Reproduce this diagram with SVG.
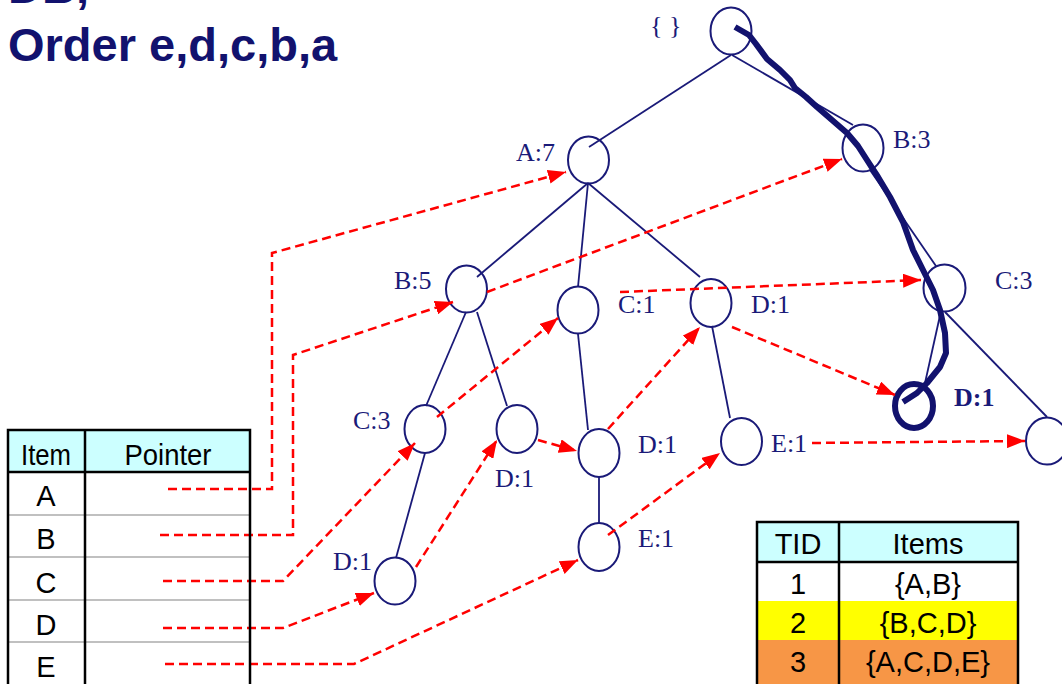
<svg xmlns="http://www.w3.org/2000/svg" width="1062" height="684" viewBox="0 0 1062 684">
<style>
.title{font-family:"Liberation Sans",Arial,sans-serif;font-weight:bold;font-size:47px;fill:#12126e}
.lbl{font-family:"Liberation Serif","Times New Roman",serif;font-size:26px;fill:#1a1a78}
.node{fill:none;stroke:#1a1a78;stroke-width:2}
.edge{stroke:#1a1a78;stroke-width:1.8;fill:none}
.ptr{stroke:#ff0000;stroke-width:2.5;stroke-dasharray:9,5;fill:none}
.tt{font-family:"Liberation Sans",Arial,sans-serif;font-size:29px;fill:#000;text-anchor:middle}
.tb{stroke:#000;stroke-width:2.5;fill:none}
.grey{stroke:#c0c0c0;stroke-width:2}
</style>
<defs>
<marker id="ah" markerUnits="userSpaceOnUse" markerWidth="18" markerHeight="14" refX="18" refY="7" orient="auto">
<path d="M0,0 L18,7 L0,14 z" fill="#ff0000"/>
</marker>
</defs>
<rect width="1062" height="684" fill="#ffffff"/>
<g id="title">
<text class="title" x="8" y="3">DB,</text>
<text class="title" x="8" y="61">Order e,d,c,b,a</text>
</g>
<g id="tree-edges">
<line class="edge" x1="731" y1="55" x2="589" y2="147"/>
<line class="edge" x1="732" y1="55" x2="853" y2="125"/>
<line class="edge" x1="588" y1="183" x2="477" y2="277"/>
<line class="edge" x1="588" y1="183" x2="578" y2="287"/>
<line class="edge" x1="588" y1="183" x2="700" y2="277"/>
<line class="edge" x1="870" y1="170" x2="936" y2="266"/>
<line class="edge" x1="941" y1="311" x2="925" y2="383"/>
<line class="edge" x1="945" y1="312" x2="1047" y2="417"/>
<line class="edge" x1="466" y1="312" x2="426" y2="406"/>
<line class="edge" x1="477" y1="312" x2="507" y2="406"/>
<line class="edge" x1="578" y1="334" x2="588" y2="430"/>
<line class="edge" x1="599" y1="477" x2="599" y2="523"/>
<line class="edge" x1="712" y1="326" x2="730" y2="418"/>
<line class="edge" x1="425" y1="453" x2="396" y2="558"/>
</g>
<g id="node-root"><ellipse class="node" cx="731" cy="31" rx="20.5" ry="23.5"/><text class="lbl" x="650" y="34">{ }</text></g>
<g id="node-A7"><ellipse class="node" cx="588.5" cy="160" rx="20.5" ry="23.5"/><text class="lbl" x="516" y="161">A:7</text></g>
<g id="node-B3"><ellipse class="node" cx="863" cy="148" rx="20.5" ry="23.5"/><text class="lbl" x="893" y="148">B:3</text></g>
<g id="node-B5"><ellipse class="node" cx="466.5" cy="289" rx="20.5" ry="23.5"/><text class="lbl" x="394" y="289">B:5</text></g>
<g id="node-C1"><ellipse class="node" cx="578" cy="310" rx="20.5" ry="23.5"/><text class="lbl" x="618" y="313">C:1</text></g>
<g id="node-D1a"><ellipse class="node" cx="711" cy="303" rx="20.5" ry="24"/><text class="lbl" x="751" y="313">D:1</text></g>
<g id="node-C3r"><ellipse class="node" cx="944.5" cy="288" rx="21" ry="23.5"/><text class="lbl" x="995" y="289">C:3</text></g>
<g id="node-D1bold"><ellipse cx="914" cy="406" rx="19" ry="22" fill="none" stroke="#12126e" stroke-width="6"/><text class="lbl" x="954" y="406" font-weight="bold">D:1</text></g>
<g id="node-Eright"><ellipse class="node" cx="1047" cy="441" rx="21" ry="23.5"/></g>
<g id="node-C3l"><ellipse class="node" cx="425" cy="429" rx="20.5" ry="24"/><text class="lbl" x="353" y="429">C:3</text></g>
<g id="node-D1b"><ellipse class="node" cx="517" cy="429" rx="20.5" ry="24"/><text class="lbl" x="495" y="487">D:1</text></g>
<g id="node-D1m"><ellipse class="node" cx="599" cy="453" rx="20.5" ry="24"/><text class="lbl" x="638" y="453">D:1</text></g>
<g id="node-E1m"><ellipse class="node" cx="599" cy="547" rx="20.5" ry="24"/><text class="lbl" x="638" y="547">E:1</text></g>
<g id="node-E1r"><ellipse class="node" cx="741.5" cy="441.5" rx="20.5" ry="23.5"/><text class="lbl" x="771" y="452">E:1</text></g>
<g id="node-D1bl"><ellipse class="node" cx="395" cy="581" rx="20.5" ry="23.5"/><text class="lbl" x="333" y="570">D:1</text></g>
<g id="highlight-path">
<path d="M735,27 L749,35 L756,44 L767,59 L780,70 L790,80 L795,88 L806,97 L817,107 L832,120 L847,133 L858,146 L867,160 L878,177 L890,197 L903,222 L913,250 L923,270 L933,290 L940,310 L945,333 L946,353 L940,367 L927,383 L917,393 L903,402" fill="none" stroke="#12126e" stroke-width="6" stroke-linejoin="round"/>
</g>
<g id="connectors">
<polyline class="ptr" points="168,489 272,489 272,253 566,172" marker-end="url(#ah)"/>
<polyline class="ptr" points="160,535 293,535 293,355 453,302" marker-end="url(#ah)"/>
<polyline class="ptr" points="163,581 283,581 415,443" marker-end="url(#ah)"/>
<polyline class="ptr" points="163,628 283,628 374,593" marker-end="url(#ah)"/>
<polyline class="ptr" points="165,664 354,664 578,560" marker-end="url(#ah)"/>
<line class="ptr" x1="487" y1="292" x2="842" y2="159" marker-end="url(#ah)"/>
<line class="ptr" x1="437" y1="417" x2="558" y2="318" marker-end="url(#ah)"/>
<line class="ptr" x1="620" y1="292" x2="921" y2="280" marker-end="url(#ah)"/>
<line class="ptr" x1="812" y1="443" x2="1025" y2="441" marker-end="url(#ah)"/>
<line class="ptr" x1="538" y1="440" x2="577" y2="451" marker-end="url(#ah)"/>
<line class="ptr" x1="416" y1="567" x2="497" y2="440" marker-end="url(#ah)"/>
<line class="ptr" x1="608" y1="429" x2="700" y2="327" marker-end="url(#ah)"/>
<line class="ptr" x1="732" y1="327" x2="895" y2="395" marker-end="url(#ah)"/>
<line class="ptr" x1="608" y1="535" x2="720" y2="453" marker-end="url(#ah)"/>
</g>
<g id="header-table">
<rect x="8" y="430" width="242" height="42" fill="#ccffff"/>
<line class="grey" x1="9" y1="515" x2="249" y2="515"/>
<line class="grey" x1="9" y1="557" x2="249" y2="557"/>
<line class="grey" x1="9" y1="600" x2="249" y2="600"/>
<line class="grey" x1="9" y1="642" x2="249" y2="642"/>
<polyline class="tb" points="8,690 8,430 250,430 250,690"/>
<line class="tb" x1="8" y1="472" x2="250" y2="472"/>
<line class="tb" x1="85" y1="430" x2="85" y2="690"/>
<text class="tt" x="46" y="465" textLength="50" lengthAdjust="spacingAndGlyphs">Item</text>
<text class="tt" x="168" y="465" textLength="87" lengthAdjust="spacingAndGlyphs">Pointer</text>
<text class="tt" x="46" y="506">A</text>
<text class="tt" x="46" y="549">B</text>
<text class="tt" x="46" y="593">C</text>
<text class="tt" x="46" y="635">D</text>
<text class="tt" x="46" y="677">E</text>
</g>
<g id="tid-table">
<rect x="757" y="522" width="261" height="40" fill="#ccffff"/>
<rect x="757" y="562" width="261" height="39" fill="#ffffff"/>
<rect x="757" y="601" width="261" height="39" fill="#ffff00"/>
<rect x="757" y="640" width="261" height="50" fill="#f79646"/>
<polyline class="tb" points="757,690 757,522 1018,522 1018,690"/>
<line class="tb" x1="757" y1="562" x2="1018" y2="562"/>
<line class="tb" x1="839" y1="522" x2="839" y2="690"/>
<text class="tt" x="798" y="554">TID</text>
<text class="tt" x="928" y="554">Items</text>
<text class="tt" x="798" y="594">1</text>
<text class="tt" x="928" y="594">{A,B}</text>
<text class="tt" x="798" y="633">2</text>
<text class="tt" x="928" y="633">{B,C,D}</text>
<text class="tt" x="798" y="672">3</text>
<text class="tt" x="928" y="672">{A,C,D,E}</text>
</g>
</svg>
